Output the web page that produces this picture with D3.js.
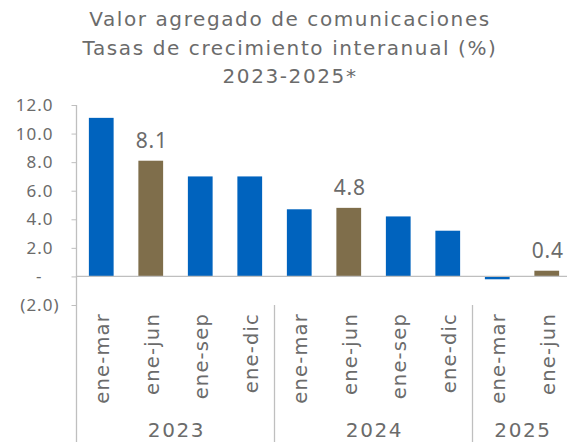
<!DOCTYPE html>
<html>
<head>
<meta charset="utf-8">
<script src="https://cdn.jsdelivr.net/npm/d3@7"></script>
<style>
  body { margin: 0; background: #fff; }
  svg text { font-family: "DejaVu Sans", sans-serif; fill: #6b6b6b; }
  svg text.num { font-family: "Noto Sans", sans-serif; }
</style>
</head>
<body>
<div id="chart"></div>
<script>
// data
const periods = ["ene-mar", "ene-jun", "ene-sep", "ene-dic", "ene-mar", "ene-jun", "ene-sep", "ene-dic", "ene-mar", "ene-jun"];
const years = ["2023", "2023", "2023", "2023", "2024", "2024", "2024", "2024", "2025", "2025"];
const values = [11.1, 8.1, 7.0, 7.0, 4.7, 4.8, 4.2, 3.2, -0.2, 0.4];
const yTicks = [-2, 0, 2, 4, 6, 8, 10, 12];
const titleLines = ["Valor agregado de comunicaciones", "Tasas de crecimiento interanual (%)", "2023-2025*"];

const width = 567, height = 442;
const margin = {top: 105, left: 76.5, right: -4.5, bottom: 137};

const svg = d3.select("#chart").append("svg")
    .attr("width", width)
    .attr("height", height);

const data = values.map(function(v, i) {
    return {key: i, period: periods[i], year: years[i], value: v};
});

const xScale = d3.scaleBand()
    .domain(data.map(d => d.key))
    .range([margin.left, width - margin.right])
    .paddingInner(0.5)
    .paddingOuter(0.25);

const yScale = d3.scaleLinear()
    .domain([-2, 12])
    .range([305, 105]);

const blue = "#0063be", olive = "#7f6e4b", axisGrey = "#bfbfbf";

/* title */
svg.append("g").selectAll("text")
    .data(titleLines)
    .enter()
    .append("text")
    .attr("x", 290)
    .attr("y", (d, i) => [26, 54.5, 83][i])
    .attr("text-anchor", "middle")
    .style("font-size", "20px")
    .style("letter-spacing", "1.6px")
    .text(d => d);

/* y axis */
const yAxis = svg.append("g")
    .attr("transform", `translate(${margin.left},0)`)
    .call(d3.axisLeft(yScale).tickValues(yTicks).tickSize(5).tickPadding(18)
        .tickFormat(d => d === 0 ? "-" : d < 0 ? `(${Math.abs(d).toFixed(1)})` : d.toFixed(1)));
yAxis.select(".domain").remove();
yAxis.selectAll("line").attr("stroke", axisGrey);
yAxis.selectAll("text").attr("class", "num")
    .style("font-size", "17px").style("letter-spacing", "1px").style("fill", "#6b6b6b")
    .attr("dx", d => d < 0 ? 6 : d === 0 ? -11 : 0);

svg.append("line")
    .attr("x1", margin.left).attr("x2", margin.left)
    .attr("y1", yScale(12)).attr("y2", height)
    .attr("stroke", axisGrey).attr("stroke-width", 1.3);

/* bars */
svg.append("g").selectAll("rect")
    .data(data)
    .enter()
    .append("rect")
    .attr("x", d => xScale(d.key))
    .attr("width", xScale.bandwidth())
    .attr("y", d => yScale(Math.max(0, d.value)))
    .attr("height", d => Math.abs(yScale(d.value) - yScale(0)))
    .attr("fill", d => d.period === "ene-jun" ? olive : blue);

/* zero line */
svg.append("line")
    .attr("x1", margin.left).attr("x2", width)
    .attr("y1", yScale(0)).attr("y2", yScale(0))
    .attr("stroke", axisGrey).attr("stroke-width", 1.3);

/* value labels on the highlighted bars */
svg.append("g").selectAll("text")
    .data(data.filter(d => d.period === "ene-jun"))
    .enter()
    .append("text")
    .attr("class", "num")
    .attr("x", d => xScale(d.key) + xScale.bandwidth() / 2 + 1)
    .attr("y", d => yScale(d.value) - 13)
    .attr("text-anchor", "middle")
    .style("font-size", "21px")
    .style("letter-spacing", "0.8px")
    .text(d => d.value.toFixed(1));

/* category labels */
svg.append("g").selectAll("text")
    .data(data)
    .enter()
    .append("text")
    .attr("transform", d => `translate(${xScale(d.key) + xScale.bandwidth() / 2 + 8},313) rotate(-90)`)
    .attr("text-anchor", "end")
    .style("font-size", "19.5px")
    .style("letter-spacing", "1.2px")
    .text(d => d.period);

/* year groups */
const yearNames = Array.from(new Set(years));
const groups = yearNames.map(function(y) {
    const keys = data.filter(d => d.year === y).map(d => d.key);
    return {year: y, first: keys[0], last: keys[keys.length - 1]};
});

svg.append("g").selectAll("line")
    .data(groups.slice(1))
    .enter()
    .append("line")
    .attr("x1", d => xScale(d.first) - xScale.step() * 0.25)
    .attr("x2", d => xScale(d.first) - xScale.step() * 0.25)
    .attr("y1", 305).attr("y2", height)
    .attr("stroke", axisGrey).attr("stroke-width", 1.3);

svg.append("g").selectAll("text")
    .data(groups)
    .enter()
    .append("text")
    .attr("x", d => (xScale(d.first) + xScale(d.last) + xScale.bandwidth()) / 2 + 1)
    .attr("y", 437)
    .attr("text-anchor", "middle")
    .style("font-size", "20px")
    .style("letter-spacing", "1.6px")
    .text(d => d.year);
</script>
</body>
</html>
